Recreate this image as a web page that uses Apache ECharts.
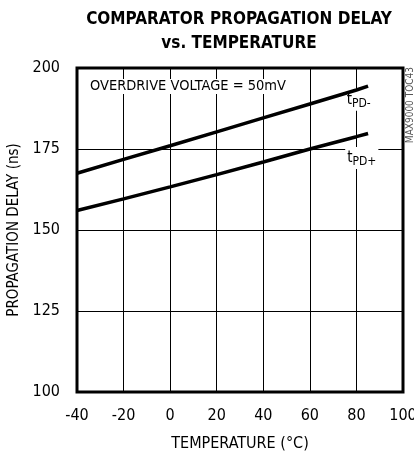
<!DOCTYPE html>
<html><head><meta charset="utf-8">
<script src="https://cdn.jsdelivr.net/npm/echarts@6/dist/echarts.min.js"></script>
<style>html,body{margin:0;padding:0;background:#fff}#c{width:414px;height:452px}</style>
</head><body><div id="c"></div>
<script>
const temps = [-40, -20, 0, 20, 40, 60, 80, 85];
const tpdMinus = [167.5, 171.8, 176.0, 180.3, 184.6, 188.9, 193.2, 194.4];
const tpdPlus = [156.0, 159.6, 163.3, 167.1, 171.0, 175.0, 178.8, 179.8];
const xTicks = [-40, -20, 0, 20, 40, 60, 80, 100];
const yTicks = [100, 125, 150, 175, 200];

const F = '"Liberation Sans Narrow","Arial Narrow","DejaVu Sans Condensed",sans-serif';
const chart = echarts.init(document.getElementById('c'));
const pts = (ys) => temps.map((t, i) => [t, ys[i]]);
const subLabel = (name) => ({
  show: true,
  formatter: '{t|t}{s|' + name + '}',
  backgroundColor: '#fff',
  padding: [1, 2, 1, 2],
  rich: {
    t: {fontFamily: F, fontSize: 15, color: '#000'},
    s: {fontFamily: F, fontSize: 12, color: '#000', verticalAlign: 'bottom', padding: [8, 0, 0, 0]}
  }
});
chart.setOption({
  animation: false,
  grid: {left: 77, right: 11, top: 68, bottom: 60, outerBoundsMode: 'none', containLabel: false,
    show: true, borderWidth: 3, borderColor: '#000', backgroundColor: 'transparent'},
  title: {
    text: 'COMPARATOR PROPAGATION DELAY\nvs. TEMPERATURE',
    left: 234, top: 3, textAlign: 'center',
    textStyle: {fontFamily: F, fontWeight: 'bold', fontSize: 17, lineHeight: 24, color: '#000'}
  },
  xAxis: {
    type: 'value', min: -40, max: 100, interval: 20,
    axisLine: {show: false}, axisTick: {show: false},
    splitLine: {show: true, lineStyle: {color: '#000', width: 1}},
    axisLabel: {fontFamily: F, fontSize: 16, color: '#000', margin: 16,
      formatter: v => xTicks.includes(v) ? String(v) : ''},
    name: 'TEMPERATURE (°C)', nameLocation: 'middle', nameGap: 44,
    nameTextStyle: {fontFamily: F, fontSize: 16, color: '#000'}
  },
  yAxis: {
    type: 'value', min: 100, max: 200, interval: 25,
    axisLine: {show: false}, axisTick: {show: false},
    splitLine: {show: true, lineStyle: {color: '#000', width: 1}},
    axisLabel: {fontFamily: F, fontSize: 16, color: '#000', margin: 17,
      formatter: v => yTicks.includes(v) ? String(v) : ''},
    name: 'PROPAGATION DELAY (ns)', nameLocation: 'middle', nameGap: 54,
    nameTextStyle: {fontFamily: F, fontSize: 15, color: '#000'}
  },
  graphic: [
    {type: 'text', left: 90, top: 79, z: 100,
      style: {text: 'OVERDRIVE VOLTAGE = 50mV', font: '14.5px ' + F, fill: '#000', backgroundColor: '#fff'}},
    {type: 'text', x: 405.5, y: 67, z: 100, rotation: Math.PI / 2,
      style: {text: 'MAX9000 TOC43', font: '10px ' + F, fill: '#555', align: 'right', verticalAlign: 'top'}}
  ],
  series: [
    {type: 'line', data: pts(tpdMinus), showSymbol: false, lineStyle: {color: '#000', width: 3.5}, z: 5,
      markPoint: {symbol: 'circle', symbolSize: 0, data: [{coord: [81, 190.2]}], label: subLabel('PD-')}},
    {type: 'line', data: pts(tpdPlus), showSymbol: false, lineStyle: {color: '#000', width: 3.5}, z: 5,
      markPoint: {symbol: 'circle', symbolSize: 0, data: [{coord: [82.3, 172.2]}], label: subLabel('PD+')}}
  ]
});
</script></body></html>
